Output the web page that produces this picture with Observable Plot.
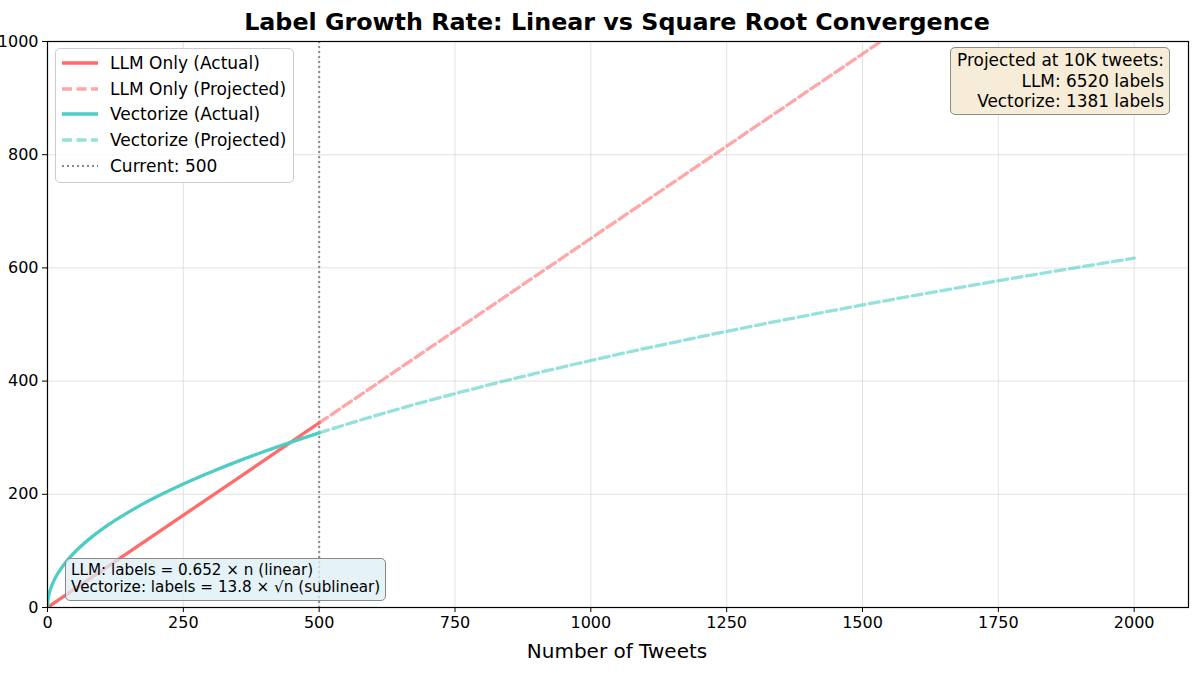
<!DOCTYPE html>
<html>
<head>
<meta charset="utf-8">
<script src="https://cdn.jsdelivr.net/npm/d3@7"></script>
<script src="https://cdn.jsdelivr.net/npm/@observablehq/plot@0.6"></script>
<style>
  html, body { margin: 0; padding: 0; background: white; }
  body { font-family: "DejaVu Sans", sans-serif; }
  #wrap { position: relative; width: 1200px; height: 675px; overflow: hidden; }
  #title { height: 34px; line-height: 44px; text-align: center; font-weight: bold; font-size: 23.8px; padding-left: 34px; }
  .box { position: absolute; box-sizing: border-box; border: 1.3px solid #8a8a8a; border-radius: 5px; }
  .abs { position: absolute; }
</style>
</head>
<body>
<div id="wrap">
  <div id="title">Label Growth Rate: Linear vs Square Root Convergence</div>
  <div id="chart"></div>
</div>
<script>
// ---- data ----
const llmActualN = [0, 500];
const llmActualY = [0, 326];
const llmProjN = [500, 2000];
const llmProjY = [326, 1304];
const vecActualN = [0, 1, 2, 3, 5, 7, 10, 15, 20, 30, 40, 50, 60, 75, 100, 125, 150, 175, 200, 250, 300, 350, 400, 450, 500];
const vecActualY = [0, 13.8, 19.5, 23.9, 30.9, 36.5, 43.6, 53.4, 61.7, 75.6, 87.3, 97.6, 106.9, 119.5, 138.0, 154.3, 169.0, 182.6, 195.2, 218.2, 239.0, 258.2, 276.0, 292.7, 308.6];
const vecProjN = [500, 600, 700, 800, 900, 1000, 1100, 1200, 1300, 1400, 1500, 1600, 1700, 1800, 1900, 2000];
const vecProjY = [308.6, 338.0, 365.1, 390.3, 414.0, 436.4, 457.7, 478.0, 497.6, 516.3, 534.5, 552.0, 569.0, 585.5, 601.5, 617.2];
const currentN = [500];
const xTicks = [0, 250, 500, 750, 1000, 1250, 1500, 1750, 2000];
const yTicks = [0, 200, 400, 600, 800, 1000];
const legendLabels = ["LLM Only (Actual)", "LLM Only (Projected)", "Vectorize (Actual)", "Vectorize (Projected)", "Current: 500"];
const formulaLines = ["LLM: labels = 0.652 × n (linear)", "Vectorize: labels = 13.8 × √n (sublinear)"];
const projLines = ["Projected at 10K tweets:", "LLM: 6520 labels", "Vectorize: 1381 labels"];

const RED = "#FF6B6B", TEAL = "#4ECDC4";
const zip = (xs, ys) => xs.map((x, i) => ({x, y: ys[i]}));

const chart = Plot.plot({
  width: 1200,
  height: 641,
  marginTop: 7,
  marginLeft: 47,
  marginRight: 12,
  marginBottom: 68,
  style: {fontFamily: "DejaVu Sans, sans-serif", fontSize: "16px", color: "black", background: "white", overflow: "visible"},
  x: {domain: [0, 2100]},
  y: {domain: [0, 1000]},
  marks: [
    Plot.gridX(xTicks, {stroke: "#b0b0b0", strokeOpacity: 0.35, strokeWidth: 1}),
    Plot.gridY(yTicks, {stroke: "#b0b0b0", strokeOpacity: 0.35, strokeWidth: 1}),
    Plot.ruleX(currentN, {stroke: "gray", strokeOpacity: 0.9, strokeWidth: 2, strokeDasharray: "2,3"}),
    Plot.line(zip(llmProjN, llmProjY), {x: "x", y: "y", stroke: RED, strokeOpacity: 0.6, strokeWidth: 3.3, strokeDasharray: "10,4.5", clip: true}),
    Plot.line(zip(vecProjN, vecProjY), {x: "x", y: "y", stroke: TEAL, strokeOpacity: 0.6, strokeWidth: 3.3, strokeDasharray: "10,4.5", curve: "catmull-rom", clip: true}),
    Plot.line(zip(llmActualN, llmActualY), {x: "x", y: "y", stroke: RED, strokeWidth: 3.3, clip: true}),
    Plot.line(zip(vecActualN, vecActualY), {x: "x", y: "y", stroke: TEAL, strokeWidth: 3.3, curve: "catmull-rom", clip: true}),
    Plot.frame({stroke: "black", strokeWidth: 1.2}),
    Plot.axisX({ticks: xTicks, tickFormat: d => String(d), tickSize: 5, tickPadding: 4, label: null, fontSize: 16}),
    Plot.axisY({ticks: yTicks, tickFormat: d => String(d), tickSize: 5, tickPadding: 4, label: null, fontSize: 16})
  ]
});
document.getElementById("chart").appendChild(chart);

const wrap = document.getElementById("wrap");
function add(html) { const t = document.createElement("div"); t.innerHTML = html; const el = t.firstElementChild; wrap.appendChild(el); return el; }

// x axis label
add(`<div class="abs" style="left:417px;top:639px;width:400px;text-align:center;font-size:20px;">Number of Tweets</div>`);

// legend
add(`<div class="box" style="left:55px;top:48px;width:239px;height:135px;background:rgba(255,255,255,0.85);border-color:#cccccc;"></div>`);
const styles = [
  {c: RED, o: 1, dash: ""},
  {c: RED, o: 0.6, dash: "10,4.5"},
  {c: TEAL, o: 1, dash: ""},
  {c: TEAL, o: 0.6, dash: "10,4.5"},
  {c: "gray", o: 0.9, dash: "2,3"}
];
legendLabels.forEach((lab, i) => {
  const s = styles[i];
  const y = 15 + i * 25.7;
  const w = i === 4 ? 2 : 3.3;
  add(`<svg class="abs" style="left:61px;top:${48 + y - 6}px" width="40" height="12"><line x1="1" x2="37" y1="6" y2="6" stroke="${s.c}" stroke-opacity="${s.o}" stroke-width="${w}" stroke-dasharray="${s.dash}"/></svg>`);
  add(`<div class="abs" style="left:110px;top:${48 + y - 11}px;font-size:17px;line-height:22px;white-space:nowrap;">${lab}</div>`);
});

// projection box (top right)
add(`<div class="box" style="left:950px;top:47px;width:220px;height:68px;background:#f7ecd7;padding:2px 5px 0 0;text-align:right;font-size:16.9px;line-height:20.5px;white-space:nowrap;">${projLines.join("<br>")}</div>`);

// formula box (bottom)
add(`<div class="box" style="left:65px;top:558px;width:321px;height:43px;background:rgba(220,238,244,0.75);padding:3px 0 0 5px;font-size:15.2px;line-height:17px;white-space:nowrap;">${formulaLines.join("<br>")}</div>`);
</script>
</body>
</html>
